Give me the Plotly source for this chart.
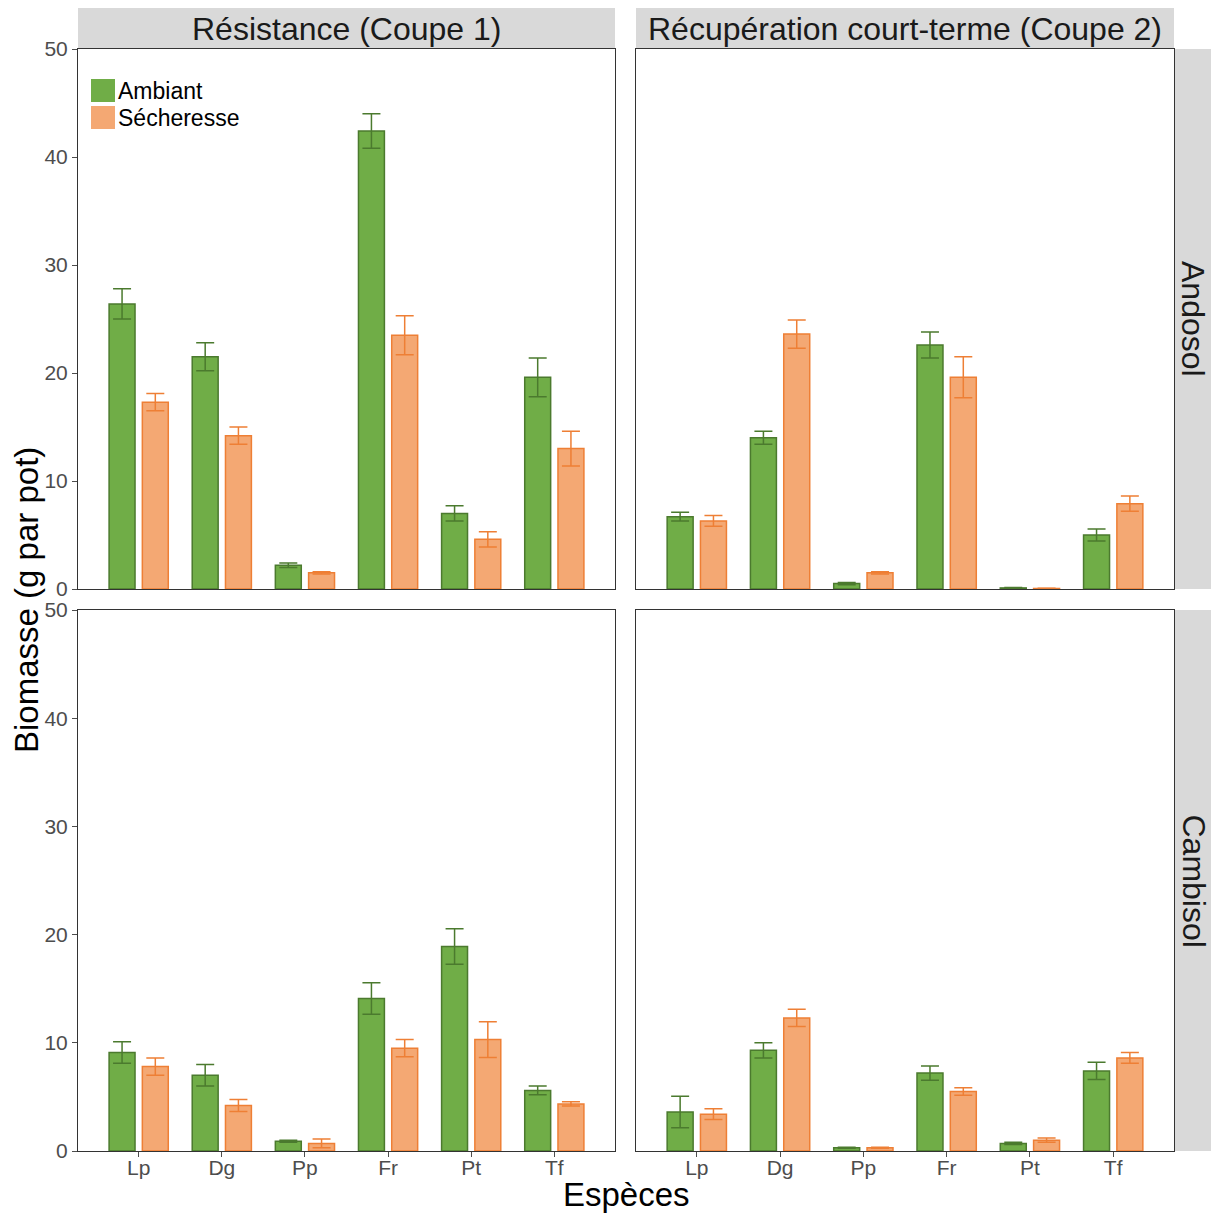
import plotly.graph_objects as go

species = ["Lp", "Dg", "Pp", "Fr", "Pt", "Tf"]
y_ticks = [0, 10, 20, 30, 40, 50]
coupes = ["Résistance (Coupe 1)", "Récupération court-terme (Coupe 2)"]
soils = ["Andosol", "Cambisol"]
treatments = ["Ambiant", "Sécheresse"]

# Andosol, Coupe 1
and_c1_amb = [26.4, 21.5, 2.2, 42.4, 7.0, 19.6]
and_c1_amb_se = [1.4, 1.3, 0.2, 1.6, 0.7, 1.8]
and_c1_sec = [17.3, 14.2, 1.5, 23.5, 4.6, 13.0]
and_c1_sec_se = [0.8, 0.8, 0.1, 1.8, 0.7, 1.6]
# Andosol, Coupe 2
and_c2_amb = [6.7, 14.0, 0.5, 22.6, 0.1, 5.0]
and_c2_amb_se = [0.4, 0.6, 0.1, 1.2, 0.05, 0.55]
and_c2_sec = [6.3, 23.6, 1.5, 19.6, 0.05, 7.9]
and_c2_sec_se = [0.5, 1.3, 0.1, 1.9, 0.03, 0.7]
# Cambisol, Coupe 1
cam_c1_amb = [9.1, 7.0, 0.9, 14.1, 18.9, 5.6]
cam_c1_amb_se = [1.0, 1.0, 0.1, 1.45, 1.65, 0.4]
cam_c1_sec = [7.8, 4.2, 0.7, 9.5, 10.3, 4.35]
cam_c1_sec_se = [0.8, 0.55, 0.4, 0.8, 1.65, 0.2]
# Cambisol, Coupe 2
cam_c2_amb = [3.6, 9.3, 0.3, 7.2, 0.7, 7.4]
cam_c2_amb_se = [1.45, 0.7, 0.05, 0.65, 0.1, 0.8]
cam_c2_sec = [3.4, 12.3, 0.3, 5.5, 1.0, 8.6]
cam_c2_sec_se = [0.5, 0.8, 0.05, 0.35, 0.2, 0.5]

panels = {
    (0, 0): (and_c1_amb, and_c1_amb_se, and_c1_sec, and_c1_sec_se),
    (0, 1): (and_c2_amb, and_c2_amb_se, and_c2_sec, and_c2_sec_se),
    (1, 0): (cam_c1_amb, cam_c1_amb_se, cam_c1_sec, cam_c1_sec_se),
    (1, 1): (cam_c2_amb, cam_c2_amb_se, cam_c2_sec, cam_c2_sec_se),
}

W, H = 1211, 1213
green_fill, green_line = "#70AD47", "#4B7A2E"
orange_fill, orange_line = "#F4A873", "#EE7F35"
FONT = "Liberation Sans, Arial, sans-serif"

# panel pixel boxes
xcols = [(78, 615), (636, 1174)]
yrows = [(49, 589), (610, 1151)]

def px_x(p):
    return p / W

def px_y(p):
    return 1 - p / H

fig = go.Figure()
layout = {}
for (r, c), (amb, amb_se, sec, sec_se) in panels.items():
    idx = r * 2 + c + 1
    xa = "x" if idx == 1 else f"x{idx}"
    ya = "y" if idx == 1 else f"y{idx}"
    for vals, se, name, fill, line in [
        (amb, amb_se, treatments[0], green_fill, green_line),
        (sec, sec_se, treatments[1], orange_fill, orange_line),
    ]:
        fig.add_trace(go.Bar(
            x=species, y=vals, name=name, showlegend=False,
            marker=dict(color=fill, line=dict(color=line, width=1.5)),
            error_y=dict(type="data", array=se, visible=True, color=line,
                         thickness=1.5, width=9),
            xaxis=xa, yaxis=ya, offsetgroup=name,
        ))
    x0, x1 = xcols[c]
    y0, y1 = yrows[r]
    layout["xaxis" if idx == 1 else f"xaxis{idx}"] = dict(
        domain=[px_x(x0), px_x(x1)], anchor=ya, automargin=False,
        type="category", categoryorder="array", categoryarray=species,
        range=[-0.73, 5.73],
        showline=True, mirror=True, linecolor="#333333", linewidth=1,
        showgrid=False, zeroline=False,
        ticks="outside" if r == 1 else "", ticklen=5, tickcolor="#4D4D4D",
        showticklabels=(r == 1), ticklabelstandoff=-7,
        tickfont=dict(family=FONT, size=21, color="#4D4D4D"),
    )
    layout["yaxis" if idx == 1 else f"yaxis{idx}"] = dict(
        domain=[px_y(y1), px_y(y0)], anchor=xa, automargin=False,
        range=[0, 50], tickvals=y_ticks,
        showline=True, mirror=True, linecolor="#333333", linewidth=1,
        showgrid=False, zeroline=False,
        ticks="outside" if c == 0 else "", ticklen=5, tickcolor="#4D4D4D",
        showticklabels=(c == 0),
        tickfont=dict(family=FONT, size=21, color="#4D4D4D"),
    )

shapes = []
annotations = []
strip_col = "#D9D9D9"
# top strips
for c, (x0, x1) in enumerate(xcols):
    shapes.append(dict(type="rect", xref="paper", yref="paper",
                       x0=px_x(x0), x1=px_x(x1), y0=px_y(48), y1=px_y(8),
                       fillcolor=strip_col, line=dict(width=0), layer="below"))
    annotations.append(dict(text=coupes[c], xref="paper", yref="paper",
                            x=px_x((x0 + x1) / 2), y=px_y(29), showarrow=False,
                            xanchor="center", yanchor="middle",
                            font=dict(family=FONT, size=32, color="#1A1A1A")))
# right strips
for r, (y0, y1) in enumerate(yrows):
    shapes.append(dict(type="rect", xref="paper", yref="paper",
                       x0=px_x(1175), x1=px_x(1215), y0=px_y(y1), y1=px_y(y0),
                       fillcolor=strip_col, line=dict(width=0), layer="below"))
    annotations.append(dict(text=soils[r], xref="paper", yref="paper",
                            x=px_x(1193), y=px_y((y0 + y1) / 2), showarrow=False,
                            textangle=90, xanchor="center", yanchor="middle",
                            font=dict(family=FONT, size=32, color="#1A1A1A")))
# axis titles
annotations.append(dict(text="Espèces", xref="paper", yref="paper",
                        x=px_x(626), y=px_y(1194), showarrow=False,
                        xanchor="center", yanchor="middle",
                        font=dict(family=FONT, size=33, color="black")))
annotations.append(dict(text="Biomasse (g par pot)", xref="paper", yref="paper",
                        x=px_x(26), y=px_y(600), showarrow=False, textangle=-90,
                        xanchor="center", yanchor="middle",
                        font=dict(family=FONT, size=33, color="black")))
# legend (inside top-left panel)
for i, (name, fill) in enumerate(zip(treatments, [green_fill, orange_fill])):
    ytop = 79 + i * 27
    shapes.append(dict(type="rect", xref="paper", yref="paper",
                       x0=px_x(91), x1=px_x(115), y0=px_y(ytop + 23), y1=px_y(ytop),
                       fillcolor=fill, line=dict(width=0)))
    annotations.append(dict(text=name, xref="paper", yref="paper",
                            x=px_x(116), y=px_y(ytop + 12), showarrow=False,
                            xanchor="left", yanchor="middle",
                            font=dict(family=FONT, size=23, color="black")))

fig.update_layout(
    **layout,
    width=W, height=H,
    margin=dict(l=0, r=0, t=0, b=0, pad=0, autoexpand=False),
    paper_bgcolor="white", plot_bgcolor="white",
    barmode="group", bargap=0.2, bargroupgap=0.22,
    shapes=shapes, annotations=annotations,
    showlegend=False,
    font=dict(family=FONT),
)

fig.write_html(
    "out.html",
    config={"displayModeBar": False},
    post_script="document.body.style.margin='0';document.body.style.padding='0';"
                "document.body.style.overflow='hidden';",
)
